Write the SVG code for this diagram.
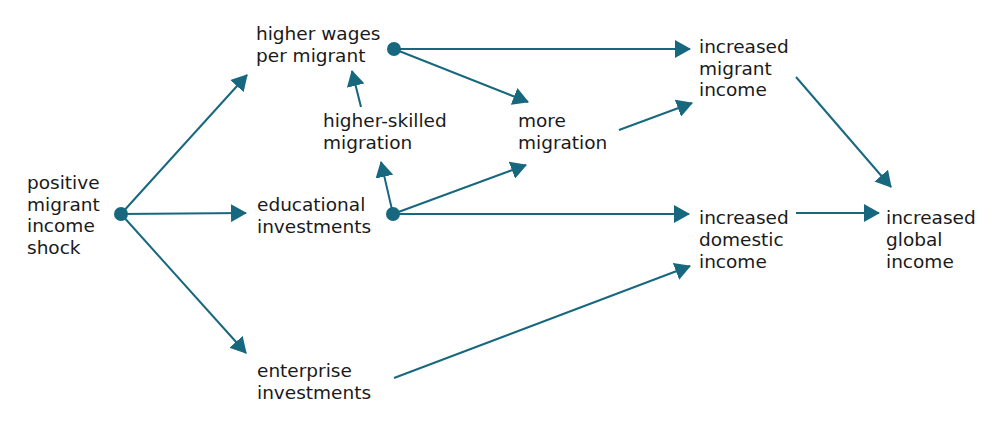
<svg xmlns="http://www.w3.org/2000/svg" width="1000" height="428" viewBox="0 0 1000 428">
<defs>
<style>
.t{font-family:"DejaVu Sans",sans-serif;font-size:18.5px;fill:#1a1a1a}
.e{stroke:#17687f;stroke-width:2;fill:none;marker-end:url(#ah)}
.d{fill:#17687f}
</style>
<marker id="ah" markerUnits="userSpaceOnUse" markerWidth="16" markerHeight="18" refX="15" refY="9" orient="auto" viewBox="0 0 16 18">
<path d="M0,0 L16,9 L0,18 z" fill="#17687f"/>
</marker>
</defs>
<rect width="1000" height="428" fill="#ffffff"/>
<g id="connectors">
<line class="e" x1="121" y1="214" x2="247" y2="75"/>
<line class="e" x1="121" y1="214" x2="246" y2="213"/>
<line class="e" x1="121" y1="214" x2="246" y2="353"/>
<line class="e" x1="394" y1="49" x2="690" y2="49"/>
<line class="e" x1="394" y1="49" x2="528" y2="102"/>
<line class="e" x1="361" y1="107" x2="352" y2="71"/>
<line class="e" x1="393" y1="214" x2="381" y2="162"/>
<line class="e" x1="393" y1="214" x2="526" y2="165"/>
<line class="e" x1="393" y1="214" x2="689" y2="214"/>
<line class="e" x1="619" y1="130" x2="692" y2="103"/>
<line class="e" x1="796" y1="77" x2="891" y2="187"/>
<line class="e" x1="796" y1="213" x2="879" y2="213"/>
<line class="e" x1="394" y1="378" x2="690" y2="266"/>
</g>
<g id="n-positive">
<circle class="d" cx="121" cy="214" r="7"/>
<text class="t" x="27" y="189"><tspan x="27">positive</tspan><tspan x="27" dy="21.7">migrant</tspan><tspan x="27" dy="21.7">income</tspan><tspan x="27" dy="21.7">shock</tspan></text>
</g>
<g id="n-wages">
<circle class="d" cx="394" cy="49" r="7"/>
<text class="t" x="256" y="40"><tspan x="256">higher wages</tspan><tspan x="256" dy="22">per migrant</tspan></text>
</g>
<g id="n-skilled">
<text class="t" x="323" y="127"><tspan x="323">higher-skilled</tspan><tspan x="323" dy="22">migration</tspan></text>
</g>
<g id="n-more">
<text class="t" x="518" y="127"><tspan x="518">more</tspan><tspan x="518" dy="22">migration</tspan></text>
</g>
<g id="n-educational">
<circle class="d" cx="393" cy="214" r="7"/>
<text class="t" x="257" y="211"><tspan x="257">educational</tspan><tspan x="257" dy="22">investments</tspan></text>
</g>
<g id="n-enterprise">
<text class="t" x="257" y="377"><tspan x="257">enterprise</tspan><tspan x="257" dy="22">investments</tspan></text>
</g>
<g id="n-migrant-income">
<text class="t" x="699" y="53"><tspan x="699">increased</tspan><tspan x="699" dy="21.7">migrant</tspan><tspan x="699" dy="21.7">income</tspan></text>
</g>
<g id="n-domestic-income">
<text class="t" x="699" y="224"><tspan x="699">increased</tspan><tspan x="699" dy="22">domestic</tspan><tspan x="699" dy="22">income</tspan></text>
</g>
<g id="n-global-income">
<text class="t" x="886" y="224"><tspan x="886">increased</tspan><tspan x="886" dy="22">global</tspan><tspan x="886" dy="22">income</tspan></text>
</g>
</svg>
